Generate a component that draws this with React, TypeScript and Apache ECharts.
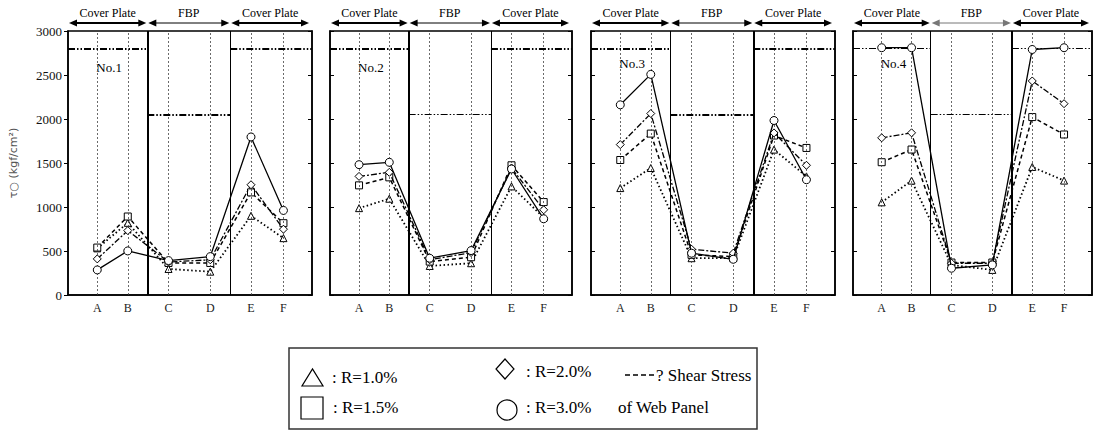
import React, { useEffect, useRef } from 'react';
import * as echarts from 'echarts';

// ---------------- data ----------------
const categories = ['A', 'B', 'C', 'D', 'E', 'F'];
const panelNames = ['No.1', 'No.2', 'No.3', 'No.4'];
const sectionLabels = ['Cover Plate', 'FBP', 'Cover Plate'];

// one row per specimen (No.1 .. No.4), values at A..F
const r10 = [
  [530, 820, 296, 265, 900, 646],
  [987, 1094, 330, 361, 1234, 880],
  [1215, 1443, 418, 418, 1652, 1348],
  [1053, 1300, 342, 285, 1455, 1300],
];
const r15 = [
  [539, 892, 364, 364, 1166, 816],
  [1246, 1337, 380, 429, 1474, 1056],
  [1534, 1834, 456, 437, 1812, 1671],
  [1509, 1653, 369, 369, 2022, 1824],
];
const r20 = [
  [410, 732, 375, 400, 1253, 748],
  [1348, 1394, 400, 482, 1443, 968],
  [1709, 2062, 520, 475, 1842, 1474],
  [1786, 1843, 361, 361, 2432, 2174],
];
const r30 = [
  [285, 501, 391, 436, 1796, 961],
  [1481, 1508, 418, 505, 1432, 866],
  [2161, 2507, 475, 406, 1983, 1310],
  [2810, 2810, 304, 342, 2790, 2810],
];
// shear stress of web panel (reference lines)
const coverPlateShear = [2800, 2800, 2800, 2800];
const fbpShear = [2050, 2050, 2050, 2050];

const yMin = 0;
const yMax = 3000;
const yInterval = 500;

// ---------------- layout ----------------
const GRIDS = [
  { left: 68, width: 244 },
  { left: 330, width: 242 },
  { left: 591, width: 244 },
  { left: 853, width: 239 },
];
const TOP = 31;
const PH = 264;
const XMAX = 10;
const XPOS = [1.2, 2.45, 4.12, 5.83, 7.5, 8.83];
const DIVS = [3.25, 6.65];
const DIV_WIDTH = [[2, 1], [2, 1], [1, 2], [1, 2]];
const LIMIT_WIDTH = [[2, 2], [2, 1], [2, 2], [1, 1]];
const SERIF = 'Liberation Serif';

const seriesDefs = [
  { name: 'R=1.0%', data: r10, symbol: 'triangle', size: 7, dash: [1.5, 2.5], width: 1.8, z: 3 },
  { name: 'R=1.5%', data: r15, symbol: 'rect', size: 7, dash: [4, 3], width: 1.5, z: 4 },
  { name: 'R=2.0%', data: r20, symbol: 'diamond', size: 8, dash: [6, 2, 2, 2], width: 1.3, z: 5 },
  { name: 'R=3.0%', data: r30, symbol: 'circle', size: 8, dash: 'solid', width: 1.3, z: 6 },
];

function px(i: number, v: number) {
  return GRIDS[i].left + (v / XMAX) * GRIDS[i].width;
}

function arrow(x1: number, x2: number, y: number, w: number, color: string) {
  const hl = 8;
  const hh = 3.6;
  return {
    type: 'group',
    children: [
      { type: 'line', shape: { x1: x1 + 4, y1: y, x2: x2 - 4, y2: y }, style: { stroke: color, lineWidth: w } },
      { type: 'polygon', shape: { points: [[x1, y], [x1 + hl, y - hh], [x1 + hl, y + hh]] }, style: { fill: color } },
      { type: 'polygon', shape: { points: [[x2, y], [x2 - hl, y - hh], [x2 - hl, y + hh]] }, style: { fill: color } },
    ],
  };
}

function txt(text: string, x: number, y: number, size: number, align = 'left') {
  return {
    type: 'text', x, y,
    style: { text, fontFamily: SERIF, fontSize: size, fill: '#000', align, verticalAlign: 'middle' },
  };
}

function buildOption() {
  const grid: any[] = [];
  const xAxis: any[] = [];
  const yAxis: any[] = [];
  const series: any[] = [];
  const graphic: any[] = [];

  GRIDS.forEach((g, i) => {
    grid.push({
      left: g.left, top: TOP, width: g.width, height: PH,
      show: true, borderColor: '#000', borderWidth: 1.5, backgroundColor: 'transparent',
      outerBoundsMode: 'none', containLabel: false,
    });
    xAxis.push({
      gridIndex: i, type: 'value', min: 0, max: XMAX,
      axisLine: { show: true, onZero: false, lineStyle: { color: '#000', width: 1.5 } },
      axisTick: { show: false },
      splitLine: { show: false },
      axisLabel: {
        show: true,
        customValues: XPOS,
        formatter: (v: number) => {
          const k = XPOS.findIndex((p) => Math.abs(p - v) < 1e-6);
          return k >= 0 ? categories[k] : '';
        },
        fontFamily: SERIF, fontSize: 12, color: '#222', margin: 7,
      },
    });
    yAxis.push({
      gridIndex: i, type: 'value', min: yMin, max: yMax, interval: yInterval, position: 'left',
      axisLine: { show: true, lineStyle: { color: '#000', width: 1.5 } },
      axisTick: { show: true, inside: i !== 0, length: 4, lineStyle: { color: '#000' } },
      splitLine: { show: false },
      axisLabel: {
        show: i === 0, fontFamily: SERIF, fontSize: 13, color: '#111', margin: 6,
        formatter: (v: number) => String(v),
      },
      name: i === 0 ? 'τ○ (kgf/cm²)' : '',
      nameLocation: 'middle', nameRotate: 90, nameGap: 49,
      nameTextStyle: { fontSize: 11, color: '#555', fontFamily: 'DejaVu Sans' },
    });
    yAxis.push({
      gridIndex: i, type: 'value', min: yMin, max: yMax, interval: yInterval, position: 'right',
      axisLine: { show: true, lineStyle: { color: '#000', width: 1.5 } },
      axisTick: { show: true, inside: true, length: 4, lineStyle: { color: '#000' } },
      splitLine: { show: false },
      axisLabel: { show: false },
    });

    // reference/guide lines
    const limitStyle = (w: number) => ({ color: '#000', width: w, type: [7, 2, 1.5, 2, 1.5, 2] });
    series.push({
      type: 'line', xAxisIndex: i, yAxisIndex: 2 * i, data: [], silent: true, z: 1,
      markLine: {
        silent: true, symbol: ['none', 'none'], label: { show: false }, animation: false,
        data: [
          ...XPOS.map((x) => ({ xAxis: x, lineStyle: { color: '#444', width: 0.8, type: [2, 2] } })),
          { xAxis: DIVS[0], lineStyle: { color: '#000', width: DIV_WIDTH[i][0], type: 'solid' } },
          { xAxis: DIVS[1], lineStyle: { color: '#000', width: DIV_WIDTH[i][1], type: 'solid' } },
          [
            { coord: [0, coverPlateShear[i]], lineStyle: limitStyle(LIMIT_WIDTH[i][0]) },
            { coord: [DIVS[0], coverPlateShear[i]] },
          ],
          [
            { coord: [DIVS[0], fbpShear[i]], lineStyle: limitStyle(LIMIT_WIDTH[i][1]) },
            { coord: [DIVS[1], fbpShear[i]] },
          ],
          [
            { coord: [DIVS[1], coverPlateShear[i]], lineStyle: limitStyle(LIMIT_WIDTH[i][0]) },
            { coord: [XMAX, coverPlateShear[i]] },
          ],
        ],
      },
    });

    seriesDefs.forEach((d) => {
      series.push({
        name: d.name, type: 'line', xAxisIndex: i, yAxisIndex: 2 * i,
        data: d.data[i].map((v, k) => [XPOS[k], v]),
        symbol: d.symbol, symbolSize: d.size, showSymbol: true,
        itemStyle: { color: '#fff', borderColor: '#000', borderWidth: 1 },
        lineStyle: { color: '#000', width: d.width, type: d.dash },
        z: d.z,
      });
    });

    // headers
    const spans = [[0, DIVS[0]], [DIVS[0], DIVS[1]], [DIVS[1], XMAX]];
    spans.forEach(([a, b], k) => {
      const x1 = px(i, a) + 1;
      const x2 = px(i, b) - (k === 2 ? 3 : 1);
      const isFbp = k === 1;
      graphic.push(arrow(x1, x2, 23, isFbp ? 1 : 2, isFbp && i === 3 ? '#777' : '#000'));
      graphic.push(txt(sectionLabels[k], (x1 + x2) / 2, 13, 12, 'center'));
    });
    graphic.push(txt(panelNames[i], px(i, XPOS[0]) - 1, i < 2 ? 67 : 63, 13));
  });

  // legend box
  const stroke = { stroke: '#000', lineWidth: 1.2, fill: 'none' };
  graphic.push(
    { type: 'rect', shape: { x: 289, y: 348, width: 468, height: 81 }, style: { stroke: '#333', lineWidth: 1.5, fill: 'none' } },
    { type: 'polygon', shape: { points: [[302, 386], [323, 386], [312.5, 369]] }, style: stroke },
    txt(': R=1.0%', 332, 377, 17),
    { type: 'rect', shape: { x: 301, y: 397, width: 22, height: 22 }, style: stroke },
    txt(': R=1.5%', 333, 407, 17),
    { type: 'polygon', shape: { points: [[505, 359], [514, 369], [505, 379], [496, 369]] }, style: stroke },
    txt(': R=2.0%', 526, 371, 17),
    { type: 'circle', shape: { cx: 507, cy: 410, r: 10 }, style: stroke },
    txt(': R=3.0%', 526, 407, 17),
    { type: 'line', shape: { x1: 625, y1: 375, x2: 654, y2: 375 }, style: { stroke: '#000', lineWidth: 1.5, lineDash: [5, 3] } },
    txt('? Shear Stress', 656, 375, 17),
    txt('of Web Panel', 618, 407, 17),
  );

  return {
    animation: false,
    backgroundColor: '#fff',
    textStyle: { fontFamily: SERIF },
    grid, xAxis, yAxis, series, graphic,
  };
}

export default function App() {
  const ref = useRef<HTMLDivElement>(null);
  useEffect(() => {
    if (!ref.current) return;
    const chart = echarts.init(ref.current, undefined, { renderer: 'svg' });
    chart.setOption(buildOption() as any);
    return () => chart.dispose();
  }, []);
  return (
    <div
      ref={ref}
      style={{ position: 'fixed', left: 0, top: 0, width: 1093, height: 432, background: '#fff' }}
    />
  );
}
